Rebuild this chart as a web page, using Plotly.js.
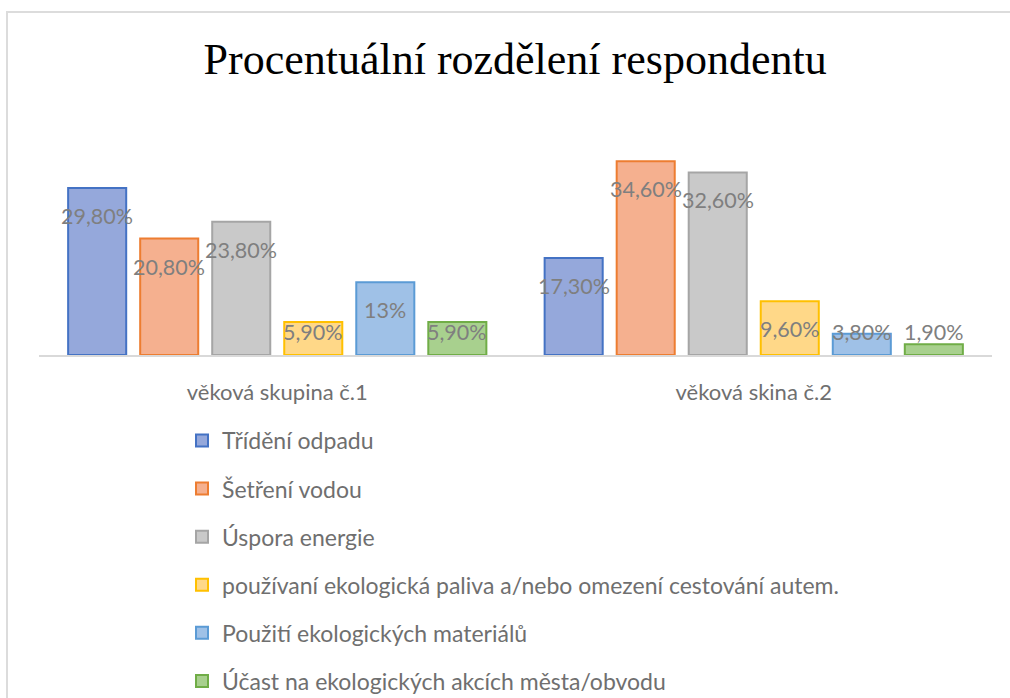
<!DOCTYPE html>
<html>
<head>
<meta charset="utf-8">
<script src="https://cdn.plot.ly/plotly-3.0.1.min.js"></script>
<style>
  html, body { margin: 0; padding: 0; background: #fff; }
  #chart { position: absolute; left: 0; top: 0; width: 1010px; height: 698px; }
  #frame { position: absolute; left: 6px; top: 11px; width: 1004px; height: 687px;
           border-left: 2px solid #dcdcdc; border-top: 2px solid #dcdcdc; pointer-events: none; box-sizing: border-box; }
</style>
</head>
<body>
<div id="chart"></div>
<div id="frame"></div>
<script>
const categories = ["věková skupina č.1", "věková skina č.2"];
const seriesNames = [
  "Třídění odpadu",
  "Šetření vodou",
  "Úspora energie",
  "používaní ekologická paliva a/nebo omezení cestování autem.",
  "Použití ekologických materiálů",
  "Účast na ekologických akcích města/obvodu"
];
const values = [
  [29.8, 17.3],
  [20.8, 34.6],
  [23.8, 32.6],
  [5.9, 9.6],
  [13.0, 3.8],
  [5.9, 1.9]
];
const labels = [
  ["29,80%", "17,30%"],
  ["20,80%", "34,60%"],
  ["23,80%", "32,60%"],
  ["5,90%", "9,60%"],
  ["13%", "3,80%"],
  ["5,90%", "1,90%"]
];
const fillColors = ["#95a8db", "#f5b08f", "#c9c9c9", "#ffd888", "#9fc1e7", "#a8d08e"];
const lineColors = ["#4472c4", "#ed7d31", "#a5a5a5", "#ffc000", "#5b9bd5", "#70ad47"];

const bargap = 0.093;
const bargroupgap = 0.194;
const textFont = "Lato, 'Open Sans', sans-serif";

const traces = seriesNames.map((name, j) => ({
  type: "bar",
  name: name,
  x: categories,
  y: values[j],
  legendgroup: "g" + j,
  marker: { color: fillColors[j], line: { color: lineColors[j], width: 2 } },
  hoverinfo: "skip"
}));

const n = seriesNames.length;
const slot = (1 - bargap) / n;
const annotations = [];
seriesNames.forEach((name, j) => {
  categories.forEach((c, i) => {
    annotations.push({
      xref: "x", yref: "y",
      x: i + (j - (n - 1) / 2) * slot,
      y: Math.max(values[j][i] - 5, 4.1),
      text: labels[j][i],
      showarrow: false,
      xanchor: "center", yanchor: "middle",
      font: { family: textFont, size: 21.5, color: "#7f7f7f" }
    });
  });
});

const layout = {
  width: 1010, height: 698,
  margin: { l: 39, r: 18, t: 131, b: 343, autoexpand: false },
  paper_bgcolor: "#ffffff",
  plot_bgcolor: "#ffffff",
  title: {
    text: "Procentuální rozdělení respondentu",
    font: { family: "'Liberation Serif', 'Times New Roman', serif", size: 44, color: "#000000" },
    x: 0.51, xanchor: "center",
    y: 1 - 59 / 698, yanchor: "middle", yref: "container"
  },
  barmode: "group",
  bargap: bargap,
  bargroupgap: bargroupgap,
  showlegend: true,
  legend: {
    orientation: "v",
    x: (182 - 39) / 953, xanchor: "left",
    y: (355 - 419) / 224, yanchor: "top",
    font: { family: textFont, size: 23, color: "#6f6f6f" },
    tracegroupgap: 15.2,
    traceorder: "grouped",
    bgcolor: "rgba(0,0,0,0)"
  },
  xaxis: {
    type: "category",
    showgrid: false,
    showline: true, linecolor: "#d9d9d9", linewidth: 2,
    ticks: "",
    ticklabelstandoff: 17,
    tickfont: { family: textFont, size: 22, color: "#6f6f6f" },
    zeroline: false
  },
  yaxis: {
    range: [0, 40],
    visible: false,
    showgrid: false,
    zeroline: false
  },
  annotations: annotations
};

Plotly.newPlot("chart", traces, layout, { staticPlot: true, displayModeBar: false });
</script>
</body>
</html>
